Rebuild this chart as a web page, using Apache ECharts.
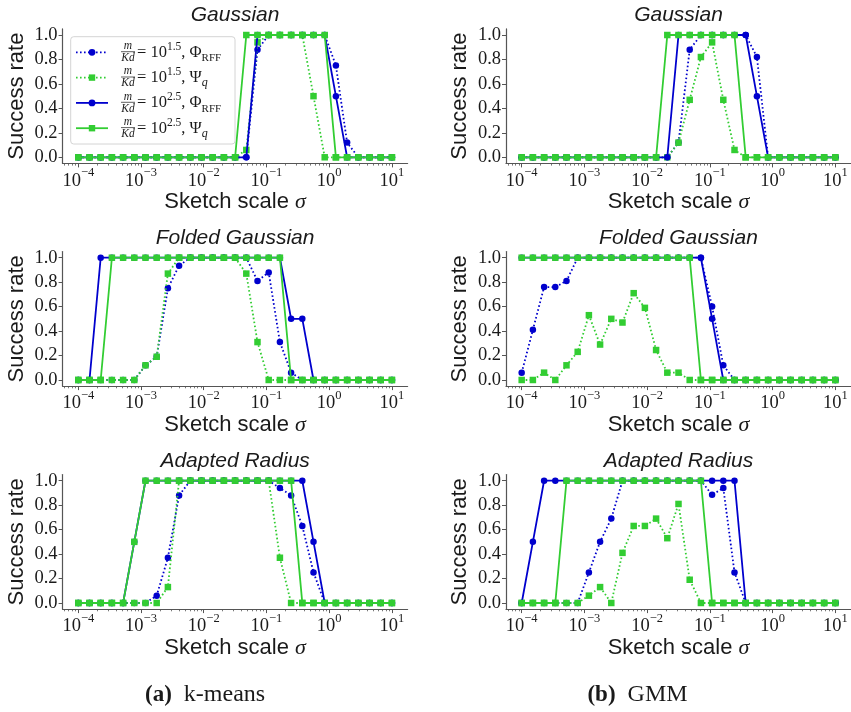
<!DOCTYPE html>
<html>
<head>
<meta charset="utf-8">
<script src="https://cdn.jsdelivr.net/npm/echarts@6/dist/echarts.min.js"></script>
<style>
  html, body { margin: 0; padding: 0; background: #fff; }
  #chart { width: 851px; height: 712px; }
</style>
</head>
<body>
<div id="chart"></div>
<script>
// Sketch scale grid: 29 log-spaced values from 1e-4 to 1e1
const sigma = [1.0e-4, 1.5087e-4, 2.2760e-4, 3.4337e-4, 5.1795e-4, 7.8147e-4,
  1.1789e-3, 1.7783e-3, 2.6827e-3, 4.0473e-3, 6.1054e-3, 9.2112e-3,
  1.3895e-2, 2.0964e-2, 3.1623e-2, 4.7705e-2, 7.1969e-2, 0.10857,
  0.16379, 0.24710, 0.37276, 0.56234, 0.84834, 1.2798, 1.9307,
  2.9126, 4.3940, 6.6289, 10.0];

const xTicks = [1e-4, 1e-3, 1e-2, 1e-1, 1, 10];
const yTicks = [0, 0.2, 0.4, 0.6, 0.8, 1.0];

// (a) k-means, Gaussian
const kmGaussRffLow  = [0,0,0,0,0,0,0,0,0,0,0,0,0,0,0,0, 0.88, 1,1,1,1,1,1, 0.75, 0.12, 0,0,0,0];
const kmGaussPsiLow  = [0,0,0,0,0,0,0,0,0,0,0,0,0,0,0, 0.06, 0.94, 1,1,1,1, 0.5, 0,0,0,0,0,0,0];
const kmGaussRffHigh = [0,0,0,0,0,0,0,0,0,0,0,0,0,0,0,0, 1,1,1,1,1,1,1, 0.5, 0,0,0,0,0];
const kmGaussPsiHigh = [0,0,0,0,0,0,0,0,0,0,0,0,0,0,0, 1,1,1,1,1,1,1,1, 0,0,0,0,0,0];

// (b) GMM, Gaussian
const gmGaussRffLow  = [0,0,0,0,0,0,0,0,0,0,0,0,0,0, 0.12, 0.88, 1,1,1,1,1, 0.82, 0,0,0,0,0,0,0];
const gmGaussPsiLow  = [0,0,0,0,0,0,0,0,0,0,0,0,0,0, 0.12, 0.47, 0.82, 0.94, 0.47, 0.06, 0,0,0,0,0,0,0,0,0];
const gmGaussRffHigh = [0,0,0,0,0,0,0,0,0,0,0,0,0,0, 1,1,1,1,1,1,1, 0.5, 0,0,0,0,0,0,0];
const gmGaussPsiHigh = [0,0,0,0,0,0,0,0,0,0,0,0,0, 1,1,1,1,1,1,1, 0,0,0,0,0,0,0,0,0];

// (a) k-means, Folded Gaussian
const kmFoldRffLow  = [0,0,0,0,0,0, 0.12, 0.19, 0.75, 0.935, 1,1,1,1,1,1, 0.81, 0.88, 0.31, 0.06, 0,0,0,0,0,0,0,0,0];
const kmFoldPsiLow  = [0,0,0,0,0,0, 0.12, 0.19, 0.87, 1,1,1,1,1,1, 0.87, 0.31, 0,0,0,0,0,0,0,0,0,0,0,0];
const kmFoldRffHigh = [0,0, 1,1,1,1,1,1,1,1,1,1,1,1,1,1,1,1,1, 0.5, 0.5, 0,0,0,0,0,0,0,0];
const kmFoldPsiHigh = [0,0,0, 1,1,1,1,1,1,1,1,1,1,1,1,1,1,1,1, 0,0,0,0,0,0,0,0,0,0];

// (b) GMM, Folded Gaussian
const gmFoldRffLow  = [0.06, 0.41, 0.76, 0.76, 0.81, 1,1,1,1,1,1,1,1,1,1,1,1, 0.6, 0.12, 0,0,0,0,0,0,0,0,0,0];
const gmFoldPsiLow  = [0, 0, 0.06, 0, 0.12, 0.23, 0.53, 0.29, 0.5, 0.47, 0.71, 0.59, 0.245, 0.06, 0.06, 0,0,0,0,0,0,0,0,0,0,0,0,0,0];
const gmFoldRffHigh = [1,1,1,1,1,1,1,1,1,1,1,1,1,1,1,1,1, 0.5, 0,0,0,0,0,0,0,0,0,0,0];
const gmFoldPsiHigh = [1,1,1,1,1,1,1,1,1,1,1,1,1,1,1,1, 0,0,0,0,0,0,0,0,0,0,0,0,0];

// (a) k-means, Adapted Radius
const kmAdaptRffLow  = [0,0,0,0,0,0,0, 0.06, 0.37, 0.88, 1,1,1,1,1,1,1,1, 0.94, 0.88, 0.63, 0.25, 0,0,0,0,0,0,0];
const kmAdaptPsiLow  = [0,0,0,0,0,0,0,0, 0.13, 1,1,1,1,1,1,1,1,1, 0.37, 0,0,0,0,0,0,0,0,0,0];
const kmAdaptRffHigh = [0,0,0,0,0, 0.5, 1,1,1,1,1,1,1,1,1,1,1,1,1,1,1, 0.5, 0,0,0,0,0,0,0];
const kmAdaptPsiHigh = [0,0,0,0,0, 0.5, 1,1,1,1,1,1,1,1,1,1,1,1,1,1, 0,0,0,0,0,0,0,0,0];

// (b) GMM, Adapted Radius
const gmAdaptRffLow  = [0,0,0,0,0,0, 0.25, 0.5, 0.69, 1,1,1,1,1,1,1,1, 0.885, 0.94, 0.25, 0,0,0,0,0,0,0,0,0];
const gmAdaptPsiLow  = [0,0,0,0,0,0, 0.06, 0.13, 0, 0.41, 0.63, 0.63, 0.69, 0.53, 0.81, 0.19, 0,0,0,0,0,0,0,0,0,0,0,0,0];
const gmAdaptRffHigh = [0, 0.5, 1,1,1,1,1,1,1,1,1,1,1,1,1,1,1,1,1,1, 0,0,0,0,0,0,0,0,0];
const gmAdaptPsiHigh = [0,0,0,0, 1,1,1,1,1,1,1,1,1,1,1,1,1, 0,0,0,0,0,0,0,0,0,0,0,0];

const panelTitles = ['Gaussian', 'Folded Gaussian', 'Adapted Radius'];
const captions = [
  { tag: '(a)', text: 'k-means' },
  { tag: '(b)', text: 'GMM' }
];

const BLUE = '#0000cd';
const GREEN = '#32cd32';
const SPINE = '#555555';
const INK = '#1a1a1a';
const DOT = [1.6, 2.4];

const seriesStyles = [
  { color: BLUE,  symbol: 'circle', size: 6.5, dash: DOT },
  { color: GREEN, symbol: 'rect',   size: 6.5, dash: DOT },
  { color: BLUE,  symbol: 'circle', size: 6.5, dash: 'solid' },
  { color: GREEN, symbol: 'rect',   size: 6.5, dash: 'solid' }
];

const panels = [
  { row: 0, col: 0, series: [kmGaussRffLow, kmGaussPsiLow, kmGaussRffHigh, kmGaussPsiHigh] },
  { row: 0, col: 1, series: [gmGaussRffLow, gmGaussPsiLow, gmGaussRffHigh, gmGaussPsiHigh] },
  { row: 1, col: 0, series: [kmFoldRffLow, kmFoldPsiLow, kmFoldRffHigh, kmFoldPsiHigh] },
  { row: 1, col: 1, series: [gmFoldRffLow, gmFoldPsiLow, gmFoldRffHigh, gmFoldPsiHigh] },
  { row: 2, col: 0, series: [kmAdaptRffLow, kmAdaptPsiLow, kmAdaptRffHigh, kmAdaptPsiHigh] },
  { row: 2, col: 1, series: [gmAdaptRffLow, gmAdaptPsiLow, gmAdaptRffHigh, gmAdaptPsiHigh] }
];

// layout of the 3x2 panel grid
const colLeft = [62.6, 506];
const rowTop = [28.9, 251.6, 474.6];
const plotW = 345, plotH = 134.5;

const xMin = Math.pow(10, -4.25), xMax = Math.pow(10, 1.25);

// minor ticks at 2..9 x 10^k inside the axis range
const minorTicks = [];
for (let k = -5; k <= 1; k++) {
  for (let m = 2; m <= 9; m++) {
    const v = m * Math.pow(10, k);
    if (v > xMin && v < xMax) minorTicks.push(v);
  }
}

function powLabel(v) {
  const e = Math.round(Math.log10(v));
  return '{b|10}{s|' + (e < 0 ? '\u2212' + (-e) : String(e)) + '}';
}

const grids = [], xAxes = [], yAxes = [], series = [], titles = [];

panels.forEach((p, idx) => {
  grids.push({ left: colLeft[p.col], top: rowTop[p.row], width: plotW, height: plotH, containLabel: false });

  xAxes.push({
    type: 'log', gridIndex: idx, position: 'bottom', min: xMin, max: xMax, logBase: 10,
    axisLine: { show: true, onZero: false, lineStyle: { color: SPINE, width: 1.2 } },
    axisTick: { show: true, customValues: xTicks, length: 4, lineStyle: { color: SPINE, width: 1 } },
    axisLabel: {
      customValues: xTicks, formatter: powLabel, margin: 3, color: INK,
      rich: {
        b: { fontFamily: 'Liberation Serif', fontSize: 18.5, lineHeight: 24, verticalAlign: 'bottom', color: INK },
        s: { fontFamily: 'Liberation Serif', fontSize: 12.5, verticalAlign: 'top', color: INK }
      }
    },
    splitLine: { show: false },
    name: 'Sketch scale {s|\u03c3}', nameLocation: 'middle', nameGap: 27,
    nameTextStyle: {
      fontFamily: 'Liberation Sans', fontSize: 22, color: INK,
      rich: { s: { fontFamily: 'Liberation Serif', fontStyle: 'italic', fontSize: 22, color: INK } }
    }
  });
  xAxes.push({
    type: 'log', gridIndex: idx, position: 'bottom', min: xMin, max: xMax, logBase: 10,
    axisLine: { show: false, onZero: false },
    axisTick: { show: true, customValues: minorTicks, length: 2.2, lineStyle: { color: SPINE, width: 0.8 } },
    axisLabel: { show: false },
    splitLine: { show: false }
  });

  yAxes.push({
    type: 'value', gridIndex: idx, min: -0.05, max: 1.05,
    axisLine: { show: true, onZero: false, lineStyle: { color: SPINE, width: 1.2 } },
    axisTick: { show: true, customValues: yTicks, length: 4, lineStyle: { color: SPINE, width: 1 } },
    axisLabel: {
      customValues: yTicks, formatter: v => v.toFixed(1), margin: 5,
      fontFamily: 'Liberation Serif', fontSize: 18.5, color: INK
    },
    splitLine: { show: false },
    name: 'Success rate', nameLocation: 'middle', nameGap: 35,
    nameTextStyle: { fontFamily: 'Liberation Sans', fontSize: 22, color: INK }
  });

  titles.push({
    text: panelTitles[p.row], left: colLeft[p.col] + plotW / 2, top: rowTop[p.row] - 24,
    textAlign: 'center', padding: 0,
    textStyle: { fontFamily: 'Liberation Sans', fontStyle: 'italic', fontWeight: 'normal', fontSize: 21, color: INK }
  });

  p.series.forEach((vals, k) => {
    const st = seriesStyles[k];
    series.push({
      type: 'line', xAxisIndex: idx * 2, yAxisIndex: idx,
      data: sigma.map((s, i) => [s, vals[i]]),
      symbol: st.symbol, symbolSize: st.size, showSymbol: true,
      lineStyle: { color: st.color, width: 1.8, type: st.dash },
      itemStyle: { color: st.color },
      z: 2 + k, silent: true, animation: false,
      emphasis: { disabled: true }
    });
  });
});

// legend box drawn inside the first panel
const legendRows = [
  { style: seriesStyles[0], pow: '1.5', sym: 'phi' },
  { style: seriesStyles[1], pow: '1.5', sym: 'psi' },
  { style: seriesStyles[2], pow: '2.5', sym: 'phi' },
  { style: seriesStyles[3], pow: '2.5', sym: 'psi' }
];
const legendEls = [{
  type: 'rect', shape: { x: 70.7, y: 36.7, width: 164.3, height: 107.3, r: 3 },
  style: { fill: 'rgba(255,255,255,0.85)', stroke: '#d4d4d4', lineWidth: 1 }, z: 100
}];
legendRows.forEach((r, i) => {
  const cy = 52.3 + 25.3 * i;
  legendEls.push({
    type: 'line', shape: { x1: 76, y1: cy, x2: 108, y2: cy },
    style: { stroke: r.style.color, lineWidth: 1.8, lineDash: r.style.dash === 'solid' ? null : r.style.dash }, z: 101
  });
  if (r.style.symbol === 'circle') {
    legendEls.push({ type: 'circle', shape: { cx: 92, cy: cy, r: 3.4 }, style: { fill: r.style.color }, z: 102 });
  } else {
    legendEls.push({ type: 'rect', shape: { x: 88.8, y: cy - 3.2, width: 6.4, height: 6.4 }, style: { fill: r.style.color }, z: 102 });
  }
  legendEls.push({ type: 'text', x: 128, y: cy - 6.3, z: 102,
    style: { text: 'm', fontFamily: 'Liberation Serif', fontStyle: 'italic', fontSize: 11.5, fill: INK, align: 'center', verticalAlign: 'middle' } });
  legendEls.push({ type: 'line', shape: { x1: 121, y1: cy - 0.6, x2: 135, y2: cy - 0.6 }, style: { stroke: INK, lineWidth: 0.7 }, z: 102 });
  legendEls.push({ type: 'text', x: 128, y: cy + 5.8, z: 102,
    style: { text: 'Kd', fontFamily: 'Liberation Serif', fontStyle: 'italic', fontSize: 11.5, fill: INK, align: 'center', verticalAlign: 'middle' } });
  const symText = r.sym === 'phi' ? '{n|, \u03a6}{sub|RFF}' : '{n|, \u03a8}{subi|q}';
  legendEls.push({ type: 'text', x: 137, y: cy, z: 102,
    style: {
      text: '{n|= 10}{sup|' + r.pow + '}' + symText,
      align: 'left', verticalAlign: 'middle',
      rich: {
        n: { fontFamily: 'Liberation Serif', fontSize: 16.5, lineHeight: 23, verticalAlign: 'middle', fill: INK },
        sup: { fontFamily: 'Liberation Serif', fontSize: 11.5, verticalAlign: 'top', fill: INK },
        sub: { fontFamily: 'Liberation Serif', fontSize: 11, verticalAlign: 'bottom', fill: INK },
        subi: { fontFamily: 'Liberation Serif', fontStyle: 'italic', fontSize: 12, verticalAlign: 'bottom', fill: INK }
      }
    } });
});

// figure captions below each column
const captionEls = captions.map((c, i) => ({
  type: 'text', x: colLeft[i] + plotW / 2 - 30 + (i === 1 ? -11 : 0), y: 695, z: 10,
  style: {
    text: '{t|' + c.tag + '}{n|  ' + c.text + '}', align: 'center', verticalAlign: 'middle',
    rich: {
      t: { fontFamily: 'Liberation Serif', fontWeight: 'bold', fontSize: 23, fill: INK },
      n: { fontFamily: 'Liberation Serif', fontSize: 24, fill: INK }
    }
  }
}));

const chart = echarts.init(document.getElementById('chart'), null, { renderer: 'canvas' });
chart.setOption({
  backgroundColor: '#ffffff',
  animation: false,
  title: titles,
  grid: grids,
  xAxis: xAxes,
  yAxis: yAxes,
  series: series,
  graphic: { elements: legendEls.concat(captionEls) }
});
</script>
</body>
</html>
